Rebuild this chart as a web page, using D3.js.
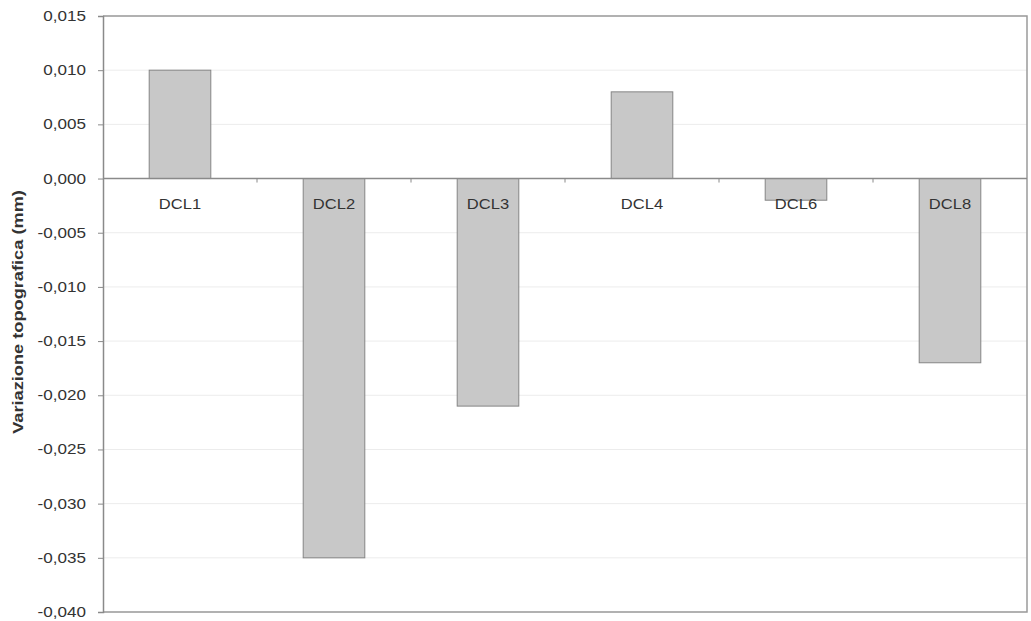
<!DOCTYPE html>
<html>
<head>
<meta charset="utf-8">
<script src="https://cdn.jsdelivr.net/npm/d3@7"></script>
<style>
  html, body { margin: 0; padding: 0; background: #fff; }
  svg { display: block; }
  text { font-family: "Liberation Sans", Arial, sans-serif; fill: #333; }
</style>
</head>
<body>
<svg id="chart" width="1031" height="621"></svg>
<script>
// Topographic variation per measurement point (mm)
const categories = ["DCL1", "DCL2", "DCL3", "DCL4", "DCL6", "DCL8"];
const values = [0.010, -0.035, -0.021, 0.008, -0.002, -0.017];
const yTicks = [0.015, 0.010, 0.005, 0.000, -0.005, -0.010, -0.015, -0.020, -0.025, -0.030, -0.035, -0.040];
const yTitle = "Variazione topografica (mm)";

const svg = d3.select("#chart");
const margin = { top: 16, right: 4, bottom: 9, left: 103 };
const W = 1031, H = 621;

const x = d3.scaleBand()
  .domain(categories)
  .range([margin.left, W - margin.right])
  .paddingInner(0.6)
  .paddingOuter(0.3);

const y = d3.scaleLinear()
  .domain([-0.040, 0.015])
  .range([H - margin.bottom, margin.top]);

const fmt = v => d3.format(".3f")(v).replace(".", ",").replace("−", "-");

// widen text horizontally by a factor, keeping its anchor
function widen(sel, k) {
  sel.each(function () {
    const len = this.getComputedTextLength();
    d3.select(this)
      .attr("textLength", len * k)
      .attr("lengthAdjust", "spacingAndGlyphs");
  });
}

// gridlines
svg.append("g")
  .selectAll("line")
  .data(yTicks)
  .join("line")
  .attr("x1", margin.left)
  .attr("x2", W - margin.right)
  .attr("y1", d => y(d))
  .attr("y2", d => y(d))
  .attr("stroke", "#ececec")
  .attr("stroke-width", 1);

// plot frame (top and right)
svg.append("path")
  .attr("d", `M${margin.left},${y(0.015)}H${W - margin.right}V${y(-0.040)}H${margin.left}`)
  .attr("fill", "none")
  .attr("stroke", "#9a9a9a")
  .attr("stroke-width", 1.5);

// bars
svg.append("g")
  .selectAll("rect")
  .data(values)
  .join("rect")
  .attr("x", (d, i) => x(categories[i]))
  .attr("width", x.bandwidth())
  .attr("y", d => y(Math.max(0, d)))
  .attr("height", d => Math.abs(y(d) - y(0)))
  .attr("fill", "#c8c8c8")
  .attr("stroke", "#858585")
  .attr("stroke-width", 1);

// y axis
const yAxis = svg.append("g")
  .attr("transform", `translate(${margin.left},0)`)
  .call(d3.axisLeft(y).tickValues(yTicks).tickFormat(fmt).tickSize(5).tickPadding(12));
yAxis.select(".domain").attr("stroke", "#8a8a8a").attr("stroke-width", 1.5);
yAxis.selectAll(".tick line").attr("stroke", "#8a8a8a");
yAxis.selectAll(".tick text")
  .attr("font-size", 14)
  .attr("fill", "#555")
  .style("font-family", "'Liberation Sans', Arial, sans-serif")
  .call(widen, 1.22);

// zero line with category separators
const step = x.step();
const sepX = d3.range(categories.length + 1).map(i => margin.left + i * step);
svg.append("line")
  .attr("x1", margin.left)
  .attr("x2", W - margin.right)
  .attr("y1", y(0))
  .attr("y2", y(0))
  .attr("stroke", "#8a8a8a")
  .attr("stroke-width", 1.5);
svg.append("g")
  .selectAll("line")
  .data(sepX.slice(1, -1))
  .join("line")
  .attr("x1", d => d)
  .attr("x2", d => d)
  .attr("y1", y(0))
  .attr("y2", y(0) + 4)
  .attr("stroke", "#8a8a8a");

// category labels below the zero line
svg.append("g")
  .selectAll("text")
  .data(categories)
  .join("text")
  .attr("x", d => x(d) + x.bandwidth() / 2)
  .attr("y", y(0) + 26)
  .attr("dy", "0.35em")
  .attr("text-anchor", "middle")
  .attr("font-size", 14)
  .attr("fill", "#444")
  .text(d => d)
  .call(widen, 1.18);

// y axis title
svg.append("text")
  .attr("transform", `translate(23,312) rotate(-90)`)
  .attr("text-anchor", "middle")
  .attr("font-size", 14)
  .attr("font-weight", "bold")
  .attr("fill", "#333")
  .text(yTitle)
  .call(widen, 1.3);
</script>
</body>
</html>
